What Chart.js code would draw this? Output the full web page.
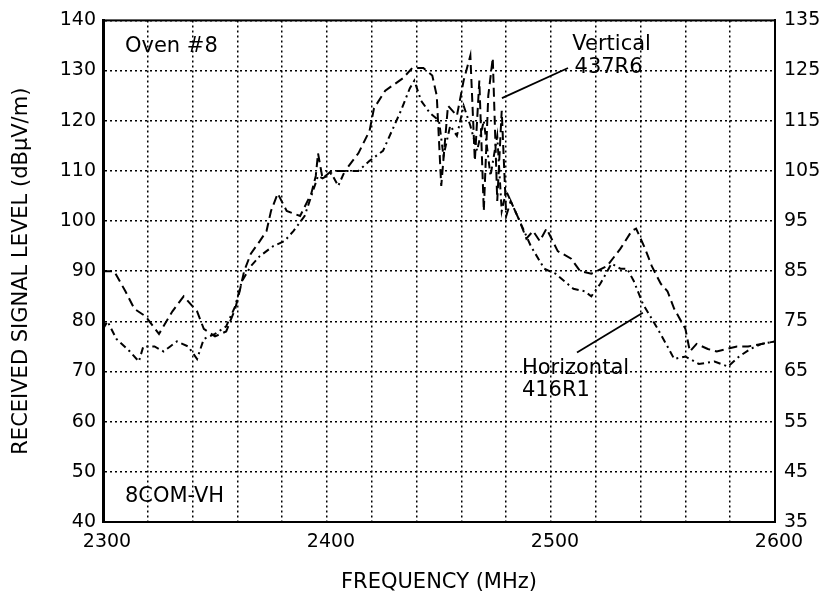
<!DOCTYPE html>
<html>
<head>
<meta charset="utf-8">
<title>Oven #8 - received signal level</title>
<script src="https://cdn.jsdelivr.net/npm/chart.js@4.4.1/dist/chart.umd.min.js"></script>
<style>
    body { margin: 0; background: #fff; }
    canvas { display: block; }
</style>
</head>
<body>
<canvas id="ovenChart" width="827" height="601"></canvas>
<script>
// Vertical polarization, 437R6 (MHz / dBuV/m)
const vertFreq = [2300, 2305, 2310, 2314, 2319, 2325, 2331, 2336, 2342, 2345, 2350, 2355, 2359, 2361, 2363,
    2366, 2370, 2373, 2375, 2378, 2382, 2388, 2393, 2395, 2396, 2398, 2402, 2408, 2414, 2419, 2421, 2426,
    2434, 2438, 2443, 2447, 2449, 2451, 2454, 2458, 2461, 2464, 2466, 2468, 2470, 2472, 2474, 2476, 2478,
    2480, 2482, 2486, 2489, 2492, 2495, 2498, 2503, 2509, 2513, 2518, 2525, 2531, 2536, 2538, 2542, 2545,
    2549, 2552, 2555, 2560, 2562, 2565, 2570, 2574, 2583, 2588, 2594, 2600];
const vertLevel = [90, 90, 86, 82.5, 81, 77.5, 82, 85, 82, 78.5, 77, 78, 82.5, 86, 90,
    93.5, 96, 98, 102, 105.5, 102, 101, 105.5, 109, 113.5, 108.5, 110, 110, 113.5, 118, 122.5, 126,
    128.5, 130.5, 130.5, 129, 125, 107, 123, 121, 128, 133, 112, 128, 102, 125, 132.5, 104, 122,
    101, 104, 100, 96.5, 98, 96, 98.5, 94, 92.5, 90, 89.5, 91, 94.5, 98, 98.5, 94.5, 91,
    87.5, 86, 82.5, 78.5, 74, 75.5, 74.5, 74, 75, 75, 75.5, 76];

// Horizontal polarization, 416R1
const horizFreq = [2300, 2302, 2306, 2312, 2316, 2318, 2323, 2327, 2330, 2333, 2338, 2342, 2345, 2350, 2355,
    2359, 2362, 2366, 2370, 2376, 2381, 2385, 2390, 2393, 2396, 2398, 2402, 2405, 2408, 2414, 2419, 2425,
    2429, 2433, 2437, 2439, 2442, 2446, 2450, 2452, 2455, 2458, 2461, 2464, 2467, 2470, 2473, 2476, 2478,
    2480, 2483, 2487, 2491, 2497, 2502, 2506, 2510, 2515, 2518, 2522, 2527, 2531, 2534, 2537, 2541, 2547,
    2552, 2555, 2560, 2566, 2573, 2579, 2584, 2589, 2594, 2600];
const horizLevel = [78.5, 80, 76.5, 74, 72, 75, 75, 74, 75, 76, 75, 72.5, 76.5, 77.5, 79,
    83, 88, 91, 93, 95, 96, 98, 101, 105, 109, 108.5, 109.5, 107, 110, 110, 112, 114,
    118, 122, 126.5, 128, 124, 121.5, 120, 113, 119, 117, 123, 119, 114, 120, 109, 117, 102,
    106, 103, 99, 95, 90.5, 89.5, 88, 86.5, 86, 85, 87.5, 91.5, 90.5, 90.5, 88, 83.5, 79,
    75, 72.5, 73, 71.5, 72, 71, 73, 74.5, 75.5, 76];

// Only these frequencies get a label, grid every 20 MHz
const freqLabels = [2300, 2400, 2500, 2600];

// Text written on the plot, placed in data units (MHz, left axis dB)
const notes = [
    { text: 'Oven #8', f: 2309.8, v: 134.8 },
    { text: 'Vertical', f: 2509.5, v: 135.2 },
    { text: '437R6', f: 2510.5, v: 130.7 },
    { text: 'Horizontal', f: 2487, v: 70.6 },
    { text: '416R1', f: 2487, v: 66.2 },
    { text: '8COM-VH', f: 2309.8, v: 45 }
];
const pointers = [
    { from: [2507.6, 130.5], to: [2478.1, 124.5] },
    { from: [2511.6, 73.8], to: [2541, 81.7] }
];

Chart.defaults.font.family = '"DejaVu Sans", sans-serif';
Chart.defaults.color = '#000';

function toPoints(xs, ys) {
    return xs.map((x, i) => ({ x: x, y: ys[i] }));
}

// Frame round the plot plus the labels and pointer lines
const notesPlugin = {
    id: 'notes',
    afterDraw(chart) {
        const { ctx, chartArea: a } = chart;
        const x = chart.scales.x;
        const y = chart.scales.y;
        ctx.save();
        ctx.strokeStyle = '#000';
        ctx.lineWidth = 2;
        ctx.strokeRect(a.left, a.top, a.right - a.left, a.bottom - a.top);

        ctx.lineWidth = 1.8;
        pointers.forEach(p => {
            ctx.beginPath();
            ctx.moveTo(x.getPixelForValue(p.from[0]), y.getPixelForValue(p.from[1]));
            ctx.lineTo(x.getPixelForValue(p.to[0]), y.getPixelForValue(p.to[1]));
            ctx.stroke();
        });

        ctx.fillStyle = '#000';
        ctx.font = '21px "DejaVu Sans"';
        ctx.textBaseline = 'middle';
        ctx.textAlign = 'left';
        notes.forEach(n => {
            ctx.fillText(n.text, x.getPixelForValue(n.f), y.getPixelForValue(n.v));
        });
        ctx.restore();
    }
};

const gridDots = { dash: [2, 3], color: '#000', width: 2 };

new Chart(document.getElementById('ovenChart'), {
    type: 'line',
    data: {
        datasets: [
            {
                label: 'Vertical 437R6',
                data: toPoints(vertFreq, vertLevel),
                yAxisID: 'y',
                borderColor: '#000',
                borderWidth: 2,
                borderDash: [9, 5],
                pointRadius: 0,
                tension: 0,
                fill: false
            },
            {
                label: 'Horizontal 416R1',
                data: toPoints(horizFreq, horizLevel),
                yAxisID: 'y',
                borderColor: '#000',
                borderWidth: 2,
                borderDash: [7, 4, 2, 4],
                pointRadius: 0,
                tension: 0,
                fill: false
            }
        ]
    },
    options: {
        responsive: false,
        animation: false,
        layout: { padding: { top: 19, left: 0, right: 0, bottom: 0 } },
        plugins: {
            legend: { display: false },
            tooltip: { enabled: false }
        },
        scales: {
            x: {
                type: 'linear',
                min: 2300,
                max: 2600,
                afterFit: s => { s.height = 79; },
                grid: { color: '#000', lineWidth: 1.5, drawTicks: false },
                border: gridDots,
                ticks: {
                    stepSize: 20,
                    padding: 9,
                    labelOffset: 4,
                    maxRotation: 0,
                    autoSkip: false,
                    font: { size: 19 },
                    callback: v => freqLabels.includes(v) ? String(v) : ''
                },
                title: {
                    display: true,
                    text: 'FREQUENCY (MHz)',
                    font: { size: 21 },
                    padding: { top: 0, bottom: 6 }
                }
            },
            y: {
                position: 'left',
                min: 40,
                max: 140,
                afterFit: s => { s.width = 103; },
                grid: { color: '#000', lineWidth: 1.5, drawTicks: false },
                border: { dash: [2, 3], color: '#000', width: 3 },
                ticks: { stepSize: 10, padding: 7, font: { size: 19 } },
                title: {
                    display: true,
                    text: 'RECEIVED SIGNAL LEVEL (dBµV/m)',
                    font: { size: 21 },
                    padding: { top: 9, bottom: 0 }
                }
            },
            y2: {
                position: 'right',
                min: 35,
                max: 135,
                afterFit: s => { s.width = 52; },
                grid: { drawOnChartArea: false, drawTicks: false },
                border: { color: '#000', width: 2 },
                ticks: { stepSize: 10, padding: 9, font: { size: 19 } }
            }
        }
    },
    plugins: [notesPlugin]
});
</script>
</body>
</html>
